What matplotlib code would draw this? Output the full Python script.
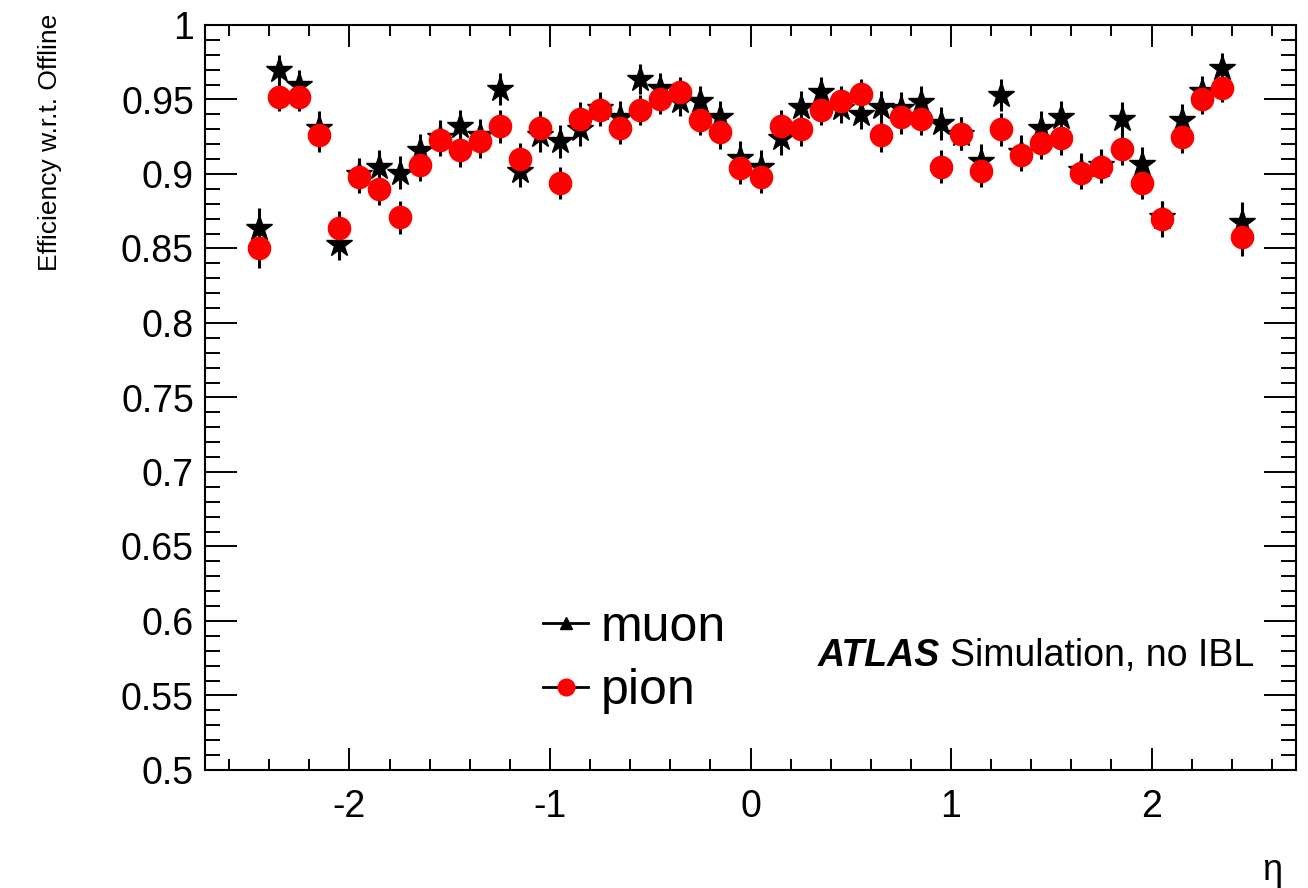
import matplotlib
matplotlib.use("Agg")
import matplotlib.pyplot as plt
from matplotlib.lines import Line2D
from matplotlib.ticker import MultipleLocator, FormatStrFormatter

plt.rcParams["font.family"] = ["Liberation Sans", "DejaVu Sans"]
plt.rcParams["axes.unicode_minus"] = False

# eta bin centres
eta = [-2.45, -2.35, -2.25, -2.15, -2.05, -1.95, -1.85, -1.75, -1.65, -1.55,
       -1.45, -1.35, -1.25, -1.15, -1.05, -0.95, -0.85, -0.75, -0.65, -0.55,
       -0.45, -0.35, -0.25, -0.15, -0.05, 0.05, 0.15, 0.25, 0.35, 0.45,
       0.55, 0.65, 0.75, 0.85, 0.95, 1.05, 1.15, 1.25, 1.35, 1.45,
       1.55, 1.65, 1.75, 1.85, 1.95, 2.05, 2.15, 2.25, 2.35, 2.45]

muon_eff = [0.864, 0.970, 0.960, 0.931, 0.853, 0.900, 0.905, 0.901, 0.916, 0.925,
            0.932, 0.926, 0.957, 0.902, 0.926, 0.922, 0.930, 0.944, 0.938, 0.964,
            0.958, 0.949, 0.949, 0.938, 0.911, 0.905, 0.924, 0.945, 0.955, 0.944,
            0.940, 0.945, 0.944, 0.948, 0.934, 0.927, 0.909, 0.953, 0.915, 0.931,
            0.938, 0.903, 0.906, 0.937, 0.907, 0.871, 0.936, 0.956, 0.971, 0.868]

pion_eff = [0.850, 0.952, 0.952, 0.926, 0.864, 0.898, 0.890, 0.871, 0.906, 0.923,
            0.916, 0.922, 0.932, 0.910, 0.931, 0.894, 0.937, 0.943, 0.931, 0.943,
            0.950, 0.955, 0.936, 0.928, 0.904, 0.898, 0.932, 0.930, 0.943, 0.949,
            0.954, 0.926, 0.938, 0.937, 0.905, 0.927, 0.902, 0.930, 0.913, 0.921,
            0.924, 0.901, 0.905, 0.917, 0.894, 0.870, 0.925, 0.950, 0.958, 0.858]

muon_err = [0.013, 0.010, 0.010, 0.011, 0.011, 0.011, 0.011, 0.011, 0.011, 0.011,
            0.011, 0.011, 0.011, 0.011, 0.011, 0.011, 0.011, 0.011, 0.011, 0.010,
            0.010, 0.010, 0.010, 0.011, 0.011, 0.011, 0.011, 0.011, 0.010, 0.010,
            0.010, 0.011, 0.011, 0.011, 0.011, 0.011, 0.011, 0.011, 0.011, 0.011,
            0.011, 0.011, 0.011, 0.011, 0.011, 0.011, 0.011, 0.010, 0.010, 0.013]

pion_err = [0.013, 0.010, 0.010, 0.011, 0.011, 0.011, 0.011, 0.011, 0.011, 0.011,
            0.011, 0.011, 0.011, 0.011, 0.011, 0.011, 0.011, 0.011, 0.011, 0.010,
            0.010, 0.010, 0.010, 0.011, 0.011, 0.011, 0.011, 0.011, 0.010, 0.010,
            0.010, 0.011, 0.011, 0.011, 0.011, 0.011, 0.011, 0.011, 0.011, 0.011,
            0.011, 0.011, 0.011, 0.011, 0.011, 0.012, 0.011, 0.010, 0.010, 0.013]


def main():
    fig = plt.figure(figsize=(13.08, 8.88), dpi=100)
    ax = fig.add_axes([205 / 1308, 1 - 770 / 888, 1091 / 1308, 745 / 888])

    ax.errorbar(eta, muon_eff, yerr=muon_err, fmt="*", color="black",
                markersize=19, ecolor="black", elinewidth=2.2, capsize=0, zorder=3)
    ax.errorbar(eta, pion_eff, yerr=pion_err, fmt="o", color="#ff0000",
                markersize=16, ecolor="black", elinewidth=2.2, capsize=0, zorder=4)

    ax.set_xlim(-2.72, 2.72)
    ax.set_ylim(0.5, 1.0)
    ax.xaxis.set_major_locator(MultipleLocator(1))
    ax.xaxis.set_minor_locator(MultipleLocator(0.2))
    ax.yaxis.set_major_locator(MultipleLocator(0.05))
    ax.yaxis.set_minor_locator(MultipleLocator(0.01))
    ax.yaxis.set_major_formatter(FormatStrFormatter("%g"))
    ax.tick_params(which="both", direction="in", top=True, right=True, width=1.4,
                   labelsize=27)
    ax.tick_params(axis="x", which="major", length=16, pad=14)
    ax.tick_params(axis="x", which="minor", length=8)
    ax.tick_params(axis="y", which="major", length=23, pad=8)
    ax.tick_params(axis="y", which="minor", length=11)
    for sp in ax.spines.values():
        sp.set_linewidth(1.5)

    handles = [
        Line2D([0], [0], color="black", lw=2, marker="^", markersize=9),
        Line2D([0], [0], color="black", lw=2, marker="o", markersize=12,
               markerfacecolor="#ff0000", markeredgecolor="#ff0000"),
    ]
    ax.legend(handles, ["muon", "pion"], loc="center left",
              bbox_to_anchor=(0.31, 0.148), frameon=False, fontsize=36,
              handlelength=0.9, handletextpad=0.25, labelspacing=0.35,
              borderpad=0, borderaxespad=0)

    ax.text(0.562, 0.14, "ATLAS", transform=ax.transAxes, fontsize=27,
            fontweight="bold", fontstyle="italic", ha="left", va="baseline")
    ax.text(0.962, 0.14, "Simulation, no IBL", transform=ax.transAxes,
            fontsize=27, ha="right", va="baseline")

    fig.text(50 / 1308, 1 - 14 / 888, "Efficiency w.r.t. Offline", rotation=90,
             ha="center", va="top", fontsize=19)
    fig.text(1272 / 1308, 1 - 870 / 888, "η", ha="center", va="center",
             fontsize=26)

    fig.savefig("out.png", dpi=100)


if __name__ == "__main__":
    main()
